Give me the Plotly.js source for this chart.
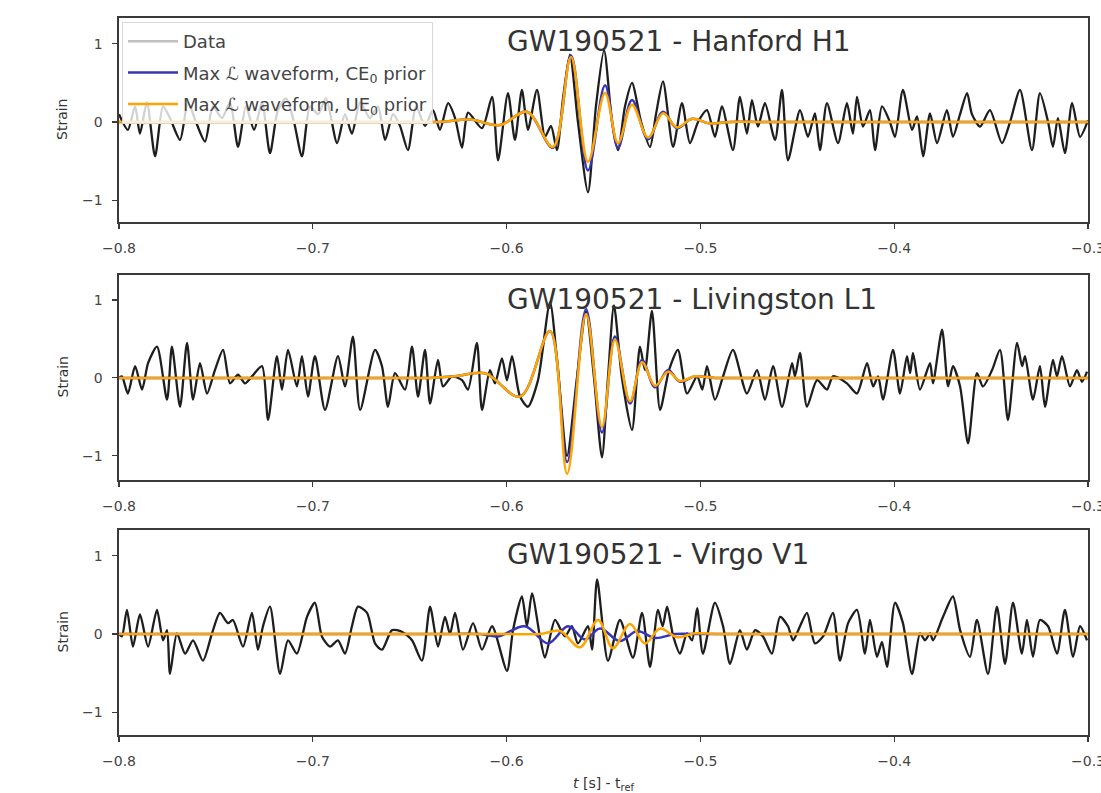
<!DOCTYPE html>
<html>
<head>
<meta charset="utf-8">
<script src="https://cdn.plot.ly/plotly-3.0.1.min.js"></script>
<style>html,body{margin:0;padding:0;background:#fff;}#chart{width:1101px;height:793px;}</style>
</head>
<body>
<div id="chart"></div>
<script>
// ---------- Panel titles / labels ----------
const panelTitles = ["GW190521 - Hanford H1", "GW190521 - Livingston L1", "GW190521 - Virgo V1"];
const seriesNames = ["Data", "Max \u2112 waveform, CE<sub>0</sub> prior", "Max \u2112 waveform, UE<sub>0</sub> prior"];
const xTickVals = [-0.8, -0.7, -0.6, -0.5, -0.4, -0.3];
const yTickVals = [-1, 0, 1];

// ---------- Hanford H1 ----------
const h1_t = [-0.8000,-0.7954,-0.7917,-0.7892,-0.7856,-0.7814,-0.7773,-0.7737,-0.7685,-0.7644,-0.7603,-0.7556,-0.7515,-0.7469,-0.7427,-0.7386,-0.7345,-0.7303,-0.7262,-0.7221,-0.7180,-0.7138,-0.7097,-0.7056,-0.7014,-0.6973,-0.6932,-0.6875,-0.6834,-0.6798,-0.6756,-0.6705,-0.6664,-0.6627,-0.6586,-0.6550,-0.6509,-0.6467,-0.6421,-0.6380,-0.6344,-0.6302,-0.6266,-0.6230,-0.6199,-0.6127,-0.6075,-0.6044,-0.5993,-0.5957,-0.5921,-0.5890,-0.5843,-0.5802,-0.5771,-0.5740,-0.5709,-0.5673,-0.5632,-0.5580,-0.5539,-0.5497,-0.5456,-0.5425,-0.5389,-0.5353,-0.5306,-0.5260,-0.5229,-0.5193,-0.5141,-0.5095,-0.5054,-0.5012,-0.4966,-0.4925,-0.4889,-0.4832,-0.4796,-0.4760,-0.4734,-0.4703,-0.4667,-0.4615,-0.4579,-0.4548,-0.4486,-0.4445,-0.4409,-0.4383,-0.4347,-0.4290,-0.4244,-0.4213,-0.4192,-0.4161,-0.4125,-0.4099,-0.4063,-0.4022,-0.3996,-0.3955,-0.3908,-0.3882,-0.3851,-0.3815,-0.3779,-0.3728,-0.3697,-0.3660,-0.3624,-0.3599,-0.3557,-0.3506,-0.3444,-0.3402,-0.3351,-0.3289,-0.3248,-0.3206,-0.3181,-0.3155,-0.3119,-0.3082,-0.3041,-0.3000];
const h1_data = [0.1,-0.1,0.2,-0.15,0.25,-0.44,0.2,0.05,-0.23,0.25,0.0,-0.25,0.2,0.05,0.25,-0.32,0.2,-0.1,0.25,-0.40,0.15,0.3,0.0,-0.44,0.2,0.1,0.3,-0.27,0.1,-0.15,0.25,0.05,0.2,-0.23,0.1,-0.05,-0.36,0.2,-0.05,0.15,-0.1,0.24,0.05,-0.33,0.12,-0.08,0.32,-0.49,0.37,-0.23,0.41,-0.1,0.41,-0.19,-0.05,-0.36,0.3,0.86,0.0,-0.9,0.2,0.92,0.0,-0.36,0.2,0.5,0.0,-0.32,0.1,0.52,-0.32,0.24,-0.27,0.0,0.15,-0.19,0.2,-0.36,0.32,-0.15,0.28,-0.06,0.24,-0.23,0.41,-0.49,0.15,-0.19,0.11,-0.36,0.24,-0.27,0.24,-0.15,0.32,-0.06,0.15,-0.36,0.2,0.0,-0.19,0.41,-0.1,0.07,-0.44,0.11,-0.27,0.15,-0.19,0.1,0.37,0.1,-0.06,0.15,-0.27,0.0,0.41,-0.36,0.37,0.0,-0.32,0.05,-0.4,0.24,-0.19,0.02];
const h1_wf_t = [-0.8,-0.75,-0.70,-0.67,-0.65,-0.6344,-0.6189,-0.6034,-0.5895,-0.5761,-0.5668,-0.5580,-0.5492,-0.5425,-0.5353,-0.5270,-0.5193,-0.5121,-0.5043,-0.4950,-0.4847,-0.47,-0.45,-0.42,-0.38,-0.34,-0.3];
const h1_ce = [0,0,0,0,0,0,0.03,-0.04,0.13,-0.33,0.85,-0.62,0.47,-0.33,0.28,-0.22,0.13,-0.08,0.04,-0.02,0.0,0,0,0,0,0,0];
const h1_ue = [0,0,0,0,0,0,0.03,-0.04,0.13,-0.32,0.83,-0.51,0.37,-0.27,0.22,-0.20,0.11,-0.07,0.04,-0.02,0.0,0,0,0,0,0,0];

// ---------- Livingston L1 ----------
const l1_t = [-0.8000,-0.7985,-0.7954,-0.7917,-0.7881,-0.7850,-0.7804,-0.7752,-0.7727,-0.7685,-0.7649,-0.7618,-0.7582,-0.7546,-0.7505,-0.7463,-0.7427,-0.7386,-0.7350,-0.7314,-0.7262,-0.7231,-0.7185,-0.7159,-0.7128,-0.7082,-0.7056,-0.7025,-0.6989,-0.6937,-0.6870,-0.6834,-0.6793,-0.6756,-0.6679,-0.6643,-0.6612,-0.6576,-0.6524,-0.6488,-0.6457,-0.6421,-0.6395,-0.6354,-0.6328,-0.6282,-0.6230,-0.6199,-0.6153,-0.6127,-0.6086,-0.6060,-0.6024,-0.5998,-0.5972,-0.5931,-0.5890,-0.5838,-0.5776,-0.5735,-0.5688,-0.5637,-0.5590,-0.5549,-0.5508,-0.5477,-0.5446,-0.5405,-0.5353,-0.5312,-0.5286,-0.5250,-0.5208,-0.5162,-0.5116,-0.5069,-0.5017,-0.4990,-0.4966,-0.4925,-0.4883,-0.4832,-0.4760,-0.4708,-0.4667,-0.4625,-0.4579,-0.4527,-0.4512,-0.4486,-0.4450,-0.4398,-0.4347,-0.4316,-0.4244,-0.4192,-0.4140,-0.4109,-0.4083,-0.4058,-0.4006,-0.3970,-0.3934,-0.3918,-0.3903,-0.3867,-0.3815,-0.3800,-0.3753,-0.3722,-0.3697,-0.3660,-0.3619,-0.3573,-0.3542,-0.3495,-0.3454,-0.3413,-0.3366,-0.3340,-0.3325,-0.3284,-0.3248,-0.3222,-0.3181,-0.3160,-0.3134,-0.3093,-0.3057,-0.3031,-0.3005];
const l1_data = [0.0,0.02,-0.2,0.15,-0.15,0.19,0.4,-0.28,0.4,-0.37,0.45,-0.28,0.19,-0.2,0.1,0.36,-0.07,0.04,-0.07,0.02,0.15,-0.54,0.28,-0.15,0.36,-0.11,0.28,-0.24,0.28,-0.41,0.28,-0.11,0.53,-0.41,0.36,0.15,-0.37,0.06,-0.15,0.4,-0.24,0.36,-0.33,0.23,-0.11,0.02,-0.03,-0.15,0.45,-0.41,0.1,-0.07,0.25,-0.03,0.28,-0.24,-0.37,-0.03,0.97,0.1,-1.0,0.0,0.85,0.0,-1.02,0.0,0.93,0.0,-0.67,0.4,0.1,0.86,-0.41,0.1,0.36,-0.2,0.02,-0.15,0.15,-0.28,0.02,0.36,-0.2,0.1,-0.28,0.15,-0.37,0.19,0.02,0.32,-0.37,-0.03,-0.15,0.02,-0.07,-0.2,0.19,-0.11,0.02,-0.28,0.36,-0.2,0.28,0.06,0.32,-0.15,0.19,-0.07,0.62,-0.11,0.15,-0.11,-0.84,0.06,-0.11,0.1,0.36,-0.54,0.45,0.15,0.28,-0.28,0.15,-0.37,0.23,0.02,0.28,-0.11,0.1,-0.05,0.08];
const l1_wf_t = [-0.8,-0.75,-0.70,-0.67,-0.65,-0.6395,-0.6266,-0.6111,-0.5931,-0.5776,-0.5688,-0.5590,-0.5508,-0.5441,-0.5363,-0.5301,-0.5234,-0.5167,-0.5105,-0.5028,-0.4925,-0.48,-0.46,-0.43,-0.39,-0.35,-0.3];
const l1_ce = [0,0,0,0,0,0,0.02,0.06,-0.24,0.6,-1.08,0.88,-0.70,0.53,-0.33,0.23,-0.12,0.10,-0.05,0.02,0,0,0,0,0,0,0];
const l1_ue = [0,0,0,0,0,0,0.02,0.06,-0.24,0.6,-1.23,0.82,-0.63,0.49,-0.30,0.20,-0.10,0.08,-0.04,0.02,0,0,0,0,0,0,0];

// ---------- Virgo V1 ----------
const v1_t = [-0.8000,-0.7985,-0.7959,-0.7928,-0.7892,-0.7850,-0.7804,-0.7773,-0.7752,-0.7737,-0.7701,-0.7659,-0.7618,-0.7567,-0.7520,-0.7479,-0.7438,-0.7412,-0.7360,-0.7314,-0.7283,-0.7257,-0.7221,-0.7169,-0.7128,-0.7082,-0.7030,-0.6989,-0.6953,-0.6911,-0.6870,-0.6834,-0.6798,-0.6767,-0.6720,-0.6679,-0.6643,-0.6591,-0.6540,-0.6488,-0.6437,-0.6395,-0.6354,-0.6318,-0.6292,-0.6266,-0.6225,-0.6173,-0.6127,-0.6075,-0.5998,-0.5967,-0.5921,-0.5895,-0.5869,-0.5828,-0.5802,-0.5750,-0.5699,-0.5663,-0.5632,-0.5580,-0.5559,-0.5533,-0.5477,-0.5415,-0.5348,-0.5301,-0.5260,-0.5219,-0.5195,-0.5172,-0.5140,-0.5105,-0.5069,-0.5043,-0.5017,-0.4987,-0.4925,-0.4883,-0.4847,-0.4796,-0.4760,-0.4718,-0.4677,-0.4631,-0.4589,-0.4548,-0.4522,-0.4486,-0.4450,-0.4409,-0.4367,-0.4316,-0.4280,-0.4238,-0.4192,-0.4151,-0.4125,-0.4089,-0.4063,-0.4037,-0.3996,-0.3955,-0.3908,-0.3867,-0.3841,-0.3815,-0.3800,-0.3748,-0.3697,-0.3660,-0.3609,-0.3573,-0.3516,-0.3470,-0.3428,-0.3387,-0.3341,-0.3315,-0.3284,-0.3248,-0.3206,-0.3160,-0.3119,-0.3077,-0.3041,-0.3005];
const v1_data = [0.0,-0.03,0.31,-0.16,0.25,-0.16,0.31,-0.08,0.05,-0.51,0.01,-0.25,-0.08,-0.34,0.01,0.27,0.14,0.18,-0.16,0.27,-0.2,0.1,0.35,-0.51,-0.08,-0.25,0.22,0.4,-0.03,-0.16,-0.08,-0.25,0.1,0.35,0.27,-0.12,-0.2,0.05,0.03,-0.08,-0.34,0.35,-0.16,0.22,0.0,0.27,-0.2,0.14,-0.2,0.1,-0.47,0.05,0.48,0.1,0.52,-0.03,-0.3,0.18,-0.03,0.1,-0.12,0.1,-0.2,0.7,-0.34,0.18,-0.3,0.27,-0.42,0.31,0.1,0.35,-0.03,-0.25,0.01,-0.08,0.33,-0.25,0.4,0.1,-0.38,0.05,-0.2,0.05,-0.03,-0.25,0.22,0.1,-0.08,0.1,0.27,-0.12,-0.03,0.27,-0.34,0.14,0.31,-0.25,0.18,-0.29,-0.1,-0.42,0.4,0.14,-0.51,0.01,-0.08,0.01,-0.08,0.22,0.48,0.05,-0.29,0.18,-0.51,0.35,-0.38,0.4,-0.25,0.18,-0.29,0.18,0.1,-0.25,0.31,-0.29,0.1,-0.08];
const v1_ce_t = [-0.8,-0.75,-0.70,-0.66,-0.635,-0.6137,-0.6044,-0.5905,-0.5786,-0.5683,-0.5595,-0.5518,-0.5415,-0.5327,-0.5234,-0.5131,-0.50,-0.48,-0.45,-0.41,-0.37,-0.33,-0.3];
const v1_ce = [0,0,0,0,0,0,-0.03,0.10,-0.12,0.10,-0.07,0.07,-0.09,0.04,-0.05,0,0,0,0,0,0,0,0];
const v1_ue_t = [-0.8,-0.75,-0.70,-0.65,-0.62,-0.60,-0.5828,-0.5724,-0.5621,-0.5528,-0.5451,-0.5363,-0.5286,-0.5208,-0.5121,-0.5028,-0.4925,-0.48,-0.46,-0.43,-0.39,-0.35,-0.3];
const v1_ue = [0,0,0,0,0,0,0,0.04,-0.17,0.18,-0.18,0.13,-0.12,0.07,-0.04,0.01,0,0,0,0,0,0,0];

// ---------- Styling ----------
const FONT = "DejaVu Sans, Liberation Sans, sans-serif";
const DATA_COLOR = "#1e1e1e";
const CE_COLOR = "#3535b5";
const UE_COLOR = "#ffa500";
const W = 1101, H = 793;
const xDom = [119 / W, 1088 / W];
const yDoms = [[1 - 222 / H, 1 - 18 / H], [1 - 480 / H, 1 - 275 / H], [1 - 735 / H, 1 - 530 / H]];
const yRanges = [[-1.28, 1.33], [-1.31, 1.32], [-1.29, 1.33]];

const panels = [
  {t: h1_t, d: h1_data, ceT: h1_wf_t, ce: h1_ce, ueT: h1_wf_t, ue: h1_ue},
  {t: l1_t, d: l1_data, ceT: l1_wf_t, ce: l1_ce, ueT: l1_wf_t, ue: l1_ue},
  {t: v1_t, d: v1_data, ceT: v1_ce_t, ce: v1_ce, ueT: v1_ue_t, ue: v1_ue}
];

const traces = [];
const layout = {
  width: W, height: H,
  margin: {l: 0, r: 0, t: 0, b: 0},
  paper_bgcolor: "#ffffff", plot_bgcolor: "#ffffff",
  font: {family: FONT, size: 13, color: "#333"},
  showlegend: true,
  legend: {
    x: 122 / W, y: 1 - 22 / H, xanchor: "left", yanchor: "top",
    bgcolor: "rgba(255,255,255,0.8)", bordercolor: "#d8d8d8", borderwidth: 1,
    font: {family: FONT, size: 18, color: "#444"},
    tracegroupgap: 5, traceorder: "grouped", itemwidth: 50
  },
  annotations: []
};

panels.forEach((p, i) => {
  const xa = i === 0 ? "x" : "x" + (i + 1);
  const ya = i === 0 ? "y" : "y" + (i + 1);
  traces.push({x: p.t, y: p.d, xaxis: xa, yaxis: ya, type: "scatter", mode: "lines",
    line: {color: DATA_COLOR, width: 2.3, shape: "spline", smoothing: 0.7},
    name: seriesNames[0], legendgroup: "g0", showlegend: false, hoverinfo: "skip"});
  traces.push({x: p.ceT, y: p.ce, xaxis: xa, yaxis: ya, type: "scatter", mode: "lines",
    line: {color: CE_COLOR, width: 2.5, shape: "spline", smoothing: 1},
    name: seriesNames[1], legendgroup: "g1", showlegend: i === 0});
  traces.push({x: p.ueT, y: p.ue, xaxis: xa, yaxis: ya, type: "scatter", mode: "lines",
    line: {color: UE_COLOR, width: 2.5, shape: "spline", smoothing: 1},
    name: seriesNames[2], legendgroup: "g2", showlegend: i === 0});

  const axCommon = {
    showline: true, mirror: true, linecolor: "#3a3a3a", linewidth: 1.6,
    showgrid: false, zeroline: false, ticks: "outside", ticklen: 5, tickwidth: 1.2, tickcolor: "#3a3a3a",
    tickfont: {family: FONT, size: 14, color: "#444"}, ticklabeloverflow: "allow"
  };
  layout[i === 0 ? "xaxis" : "xaxis" + (i + 1)] = Object.assign({}, axCommon, {
    domain: xDom, anchor: ya, range: [-0.8, -0.3], tickvals: xTickVals, tickformat: ".1f",
    ticklabelstandoff: 8
  });
  layout[i === 0 ? "yaxis" : "yaxis" + (i + 1)] = Object.assign({}, axCommon, {
    domain: yDoms[i], anchor: xa, range: yRanges[i], tickvals: yTickVals,
    ticklabelstandoff: 7
  });

  // panel title
  layout.annotations.push({
    text: panelTitles[i], xref: "paper", yref: "paper",
    x: 505 / W, y: yDoms[i][1] - 24 / H, xanchor: "left", yanchor: "middle",
    showarrow: false, font: {family: FONT, size: 28, color: "#333"}
  });
  // y axis title
  layout.annotations.push({
    text: "Strain", xref: "paper", yref: "paper",
    x: 62 / W, y: (yDoms[i][0] + yDoms[i][1]) / 2, xanchor: "center", yanchor: "middle",
    textangle: -90, showarrow: false, font: {family: FONT, size: 14, color: "#333"}
  });
});

// legend-only entry for Data (drawn light in the reference legend)
traces.unshift({x: [null], y: [null], type: "scatter", mode: "lines", name: seriesNames[0],
  legendgroup: "g0", showlegend: true, line: {color: "#c0c0c0", width: 2.5}, hoverinfo: "skip"});

// x axis title at bottom
layout.annotations.push({
  text: "<i>t</i> [s] - t<sub>ref</sub>", xref: "paper", yref: "paper",
  x: 603 / W, y: 1 - 784 / H, xanchor: "center", yanchor: "middle",
  showarrow: false, font: {family: FONT, size: 14, color: "#333"}
});

Plotly.newPlot("chart", traces, layout, {displayModeBar: false, staticPlot: true});
</script>
</body>
</html>
